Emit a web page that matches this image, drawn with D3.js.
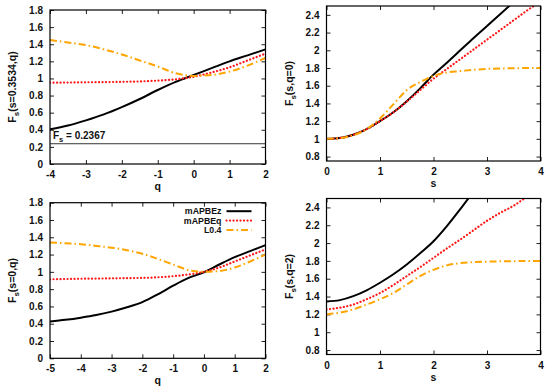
<!DOCTYPE html>
<html>
<head>
<meta charset="utf-8">
<script src="https://cdn.jsdelivr.net/npm/d3@7"></script>
<style>
  body { margin: 0; background: #fff; }
  text { font-family: "Liberation Sans", Arial, sans-serif; font-weight: bold; fill: #111; }
</style>
</head>
<body>
<svg id="chart" width="550" height="392"></svg>
<script>
// panel (a): F_s(s=0.3534, q)
const qA = [-4, -3.5, -3, -2.5, -2, -1.5, -1, -0.5, 0, 0.5, 1, 1.5, 2];
const zA = [0.405, 0.45, 0.51, 0.58, 0.665, 0.76, 0.865, 0.96, 1.04, 1.12, 1.2, 1.27, 1.34];
const qA_eq = [0.95, 0.952, 0.955, 0.957, 0.96, 0.965, 0.975, 0.99, 1.02, 1.07, 1.13, 1.21, 1.29];
const lA = [1.45, 1.42, 1.39, 1.34, 1.28, 1.21, 1.14, 1.06, 1.03, 1.04, 1.08, 1.15, 1.24];

// panel (b): F_s(s, q=0)
const sB = [0, 0.25, 0.5, 0.75, 1, 1.25, 1.5, 1.75, 2, 2.25, 2.5, 2.75, 3, 3.25, 3.5, 3.75, 4];
const zB = [1.0, 1.01, 1.046, 1.11, 1.2, 1.3, 1.425, 1.57, 1.725, 1.86, 2.0, 2.14, 2.275, 2.41, 2.545, 2.68, 2.82];
const qB = [1.0, 1.01, 1.046, 1.11, 1.2, 1.3, 1.42, 1.55, 1.68, 1.79, 1.9, 2.01, 2.12, 2.23, 2.34, 2.45, 2.55];
const lB = [1.0, 1.008, 1.04, 1.11, 1.23, 1.39, 1.55, 1.64, 1.71, 1.75, 1.765, 1.78, 1.79, 1.795, 1.797, 1.8, 1.8];

// panel (c): F_s(s=0, q)
const qC = [-5, -4.5, -4, -3.5, -3, -2.5, -2, -1.5, -1, -0.5, 0, 0.5, 1, 1.5, 2];
const zC = [0.425, 0.445, 0.47, 0.5, 0.54, 0.59, 0.65, 0.74, 0.84, 0.93, 0.995, 1.085, 1.17, 1.24, 1.31];
const qC_eq = [0.914, 0.917, 0.92, 0.922, 0.925, 0.927, 0.93, 0.937, 0.95, 0.97, 1.0, 1.05, 1.12, 1.19, 1.26];
const lC = [1.34, 1.33, 1.32, 1.3, 1.28, 1.25, 1.21, 1.15, 1.085, 1.02, 1.0, 1.01, 1.05, 1.12, 1.2];

// panel (d): F_s(s, q=2)
const sD = [0, 0.25, 0.5, 0.75, 1, 1.25, 1.5, 1.75, 2, 2.25, 2.5, 2.75, 3, 3.25, 3.5, 3.75, 4];
const zD = [1.345, 1.36, 1.405, 1.47, 1.555, 1.65, 1.76, 1.885, 2.02, 2.19, 2.38, 2.58, 2.78, 2.98, 3.18, 3.38, 3.58];
const qD = [1.256, 1.275, 1.31, 1.37, 1.44, 1.53, 1.63, 1.73, 1.835, 1.94, 2.04, 2.145, 2.25, 2.34, 2.42, 2.52, 2.6];
const lD = [1.2, 1.22, 1.256, 1.31, 1.37, 1.44, 1.535, 1.63, 1.7, 1.75, 1.775, 1.787, 1.792, 1.795, 1.797, 1.799, 1.8];

const seriesNames = ['mAPBEz', 'mAPBEq', 'L0.4'];
const styles = [
  { color: '#000000', dash: null, width: 2, cap: 'butt' },
  { color: '#ff1a1a', dash: '0.1,3.4', width: 2.2, cap: 'round' },
  { color: '#ffa500', dash: '7,3,1.5,3', width: 2, cap: 'butt' }
];

const fsLimit = 0.2367;

const panels = [
  { box: [50, 265.5, 10, 164], xDom: [-4, 2], yDom: [0, 1.8], xTicks: d3.range(-4, 2.1, 1), yTicks: d3.range(0, 1.81, 0.2),
    xs: qA, ys: [zA, qA_eq, lA], xLabel: 'q', yLabel: '(s=0.3534,q)', limit: true },
  { box: [326.5, 540.5, 6, 161], xDom: [0, 4], yDom: [0.75, 2.5], xTicks: d3.range(0, 4.1, 1), yTicks: d3.range(0.8, 2.41, 0.2),
    xs: sB, ys: [zB, qB, lB], xLabel: 's', yLabel: '(s,q=0)' },
  { box: [50, 265.5, 202.7, 358.3], xDom: [-5, 2], yDom: [0, 1.8], xTicks: d3.range(-5, 2.1, 1), yTicks: d3.range(0, 1.81, 0.2),
    xs: qC, ys: [zC, qC_eq, lC], xLabel: 'q', yLabel: '(s=0,q)', legend: true },
  { box: [326.5, 540.5, 198.5, 354.5], xDom: [0, 4], yDom: [0.75, 2.5], xTicks: d3.range(0, 4.1, 1), yTicks: d3.range(0.8, 2.41, 0.2),
    xs: sD, ys: [zD, qD, lD], xLabel: 's', yLabel: '(s,q=2)' }
];

const svg = d3.select('#chart');
const fmt = d => (Math.round(d * 10) / 10).toString();

panels.forEach((p, i) => {
  const [x0, x1, y0, y1] = p.box;
  const x = d3.scaleLinear().domain(p.xDom).range([x0, x1]);
  const y = d3.scaleLinear().domain(p.yDom).range([y1, y0]);
  const g = svg.append('g');

  const clipId = 'clip' + i;
  svg.append('defs').append('clipPath').attr('id', clipId)
    .append('rect').attr('x', x0).attr('y', y0).attr('width', x1 - x0).attr('height', y1 - y0);

  // ticks on all four sides, pointing in
  g.append('g').attr('transform', `translate(0,${y1})`)
    .call(d3.axisBottom(x).tickValues(p.xTicks).tickSizeInner(-4).tickSizeOuter(0).tickPadding(7).tickFormat(fmt))
    .call(a => a.select('.domain').remove());
  g.append('g').attr('transform', `translate(0,${y0})`)
    .call(d3.axisTop(x).tickValues(p.xTicks).tickSizeInner(-4).tickSizeOuter(0).tickFormat(''))
    .call(a => a.select('.domain').remove());
  g.append('g').attr('transform', `translate(${x0},0)`)
    .call(d3.axisLeft(y).tickValues(p.yTicks).tickSizeInner(-4).tickSizeOuter(0).tickPadding(7).tickFormat(fmt))
    .call(a => a.select('.domain').remove());
  g.append('g').attr('transform', `translate(${x1},0)`)
    .call(d3.axisRight(y).tickValues(p.yTicks).tickSizeInner(-4).tickSizeOuter(0).tickFormat(''))
    .call(a => a.select('.domain').remove());
  g.selectAll('.tick text').attr('font-size', 10).attr('font-family', null).attr('fill', '#111');
  g.selectAll('.tick line').attr('stroke', '#222');

  if (p.limit) {
    g.append('line').attr('x1', x0).attr('x2', x1).attr('y1', y(fsLimit)).attr('y2', y(fsLimit))
      .attr('stroke', '#000').attr('stroke-width', 0.8);
    const t = g.append('text').attr('x', x0 + 3).attr('y', y(fsLimit) - 5).attr('font-size', 10);
    t.append('tspan').text('F');
    t.append('tspan').attr('font-size', 7.5).attr('dy', 3).text('s');
    t.append('tspan').attr('dy', -3).text(' = 0.2367');
  }

  const line = d3.line().x((d, k) => x(p.xs[k])).y(d => y(d)).curve(d3.curveMonotoneX);
  p.ys.forEach((vals, k) => {
    const st = styles[k];
    g.append('path').datum(vals)
      .attr('clip-path', `url(#${clipId})`)
      .attr('d', line)
      .attr('fill', 'none')
      .attr('stroke', st.color)
      .attr('stroke-width', st.width)
      .attr('stroke-linecap', st.cap)
      .attr('stroke-dasharray', st.dash);
  });

  // frame
  g.append('rect').attr('x', x0).attr('y', y0).attr('width', x1 - x0).attr('height', y1 - y0)
    .attr('fill', 'none').attr('stroke', '#000').attr('stroke-width', 1.2);

  // axis labels
  g.append('text').attr('x', (x0 + x1) / 2).attr('y', y1 + 26).attr('text-anchor', 'middle')
    .attr('font-size', 10.5).text(p.xLabel);
  const yl = g.append('text')
    .attr('transform', `translate(${x0 - 34},${(y0 + y1) / 2}) rotate(-90)`)
    .attr('text-anchor', 'middle').attr('font-size', 10.5);
  yl.append('tspan').text('F');
  yl.append('tspan').attr('font-size', 8).attr('dy', 3).text('s');
  yl.append('tspan').attr('dy', -3).text(p.yLabel);

  if (p.legend) {
    seriesNames.forEach((name, k) => {
      const ly = y0 + 8.5 + k * 9.4;
      const st = styles[k];
      g.append('text').attr('x', x1 - 44).attr('y', ly + 3.2).attr('text-anchor', 'end')
        .attr('font-size', 8.8).text(name);
      g.append('line').attr('x1', x1 - 39).attr('x2', x1 - 14).attr('y1', ly).attr('y2', ly)
        .attr('stroke', st.color).attr('stroke-width', st.width)
        .attr('stroke-linecap', st.cap).attr('stroke-dasharray', st.dash);
    });
  }
});
</script>
</body>
</html>
